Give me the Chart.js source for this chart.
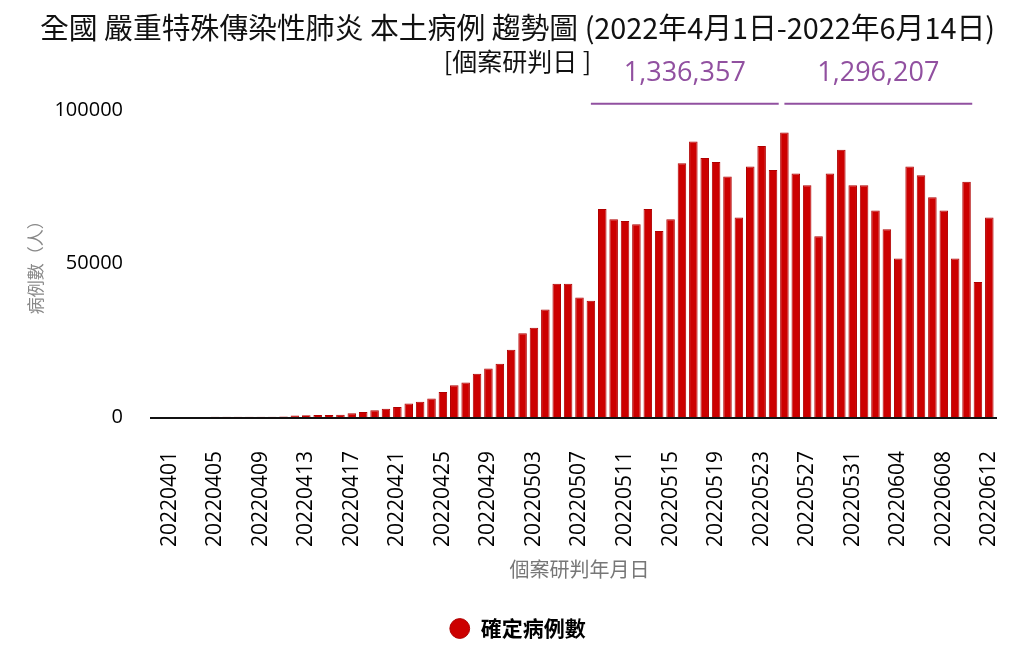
<!DOCTYPE html>
<html>
<head>
<meta charset="utf-8">
<script src="https://cdn.jsdelivr.net/npm/chart.js@4.4.0/dist/chart.umd.min.js"></script>
<style>
  html, body { margin: 0; padding: 0; background: #fff; }
  #wrap { width: 1024px; height: 651px; }
</style>
</head>
<body>
<div id="wrap"><canvas id="trendChart"></canvas></div>
<script>
// 個案研判日 (20220401 - 20220612)
const dates = [
  '20220401', '20220402', '20220403', '20220404', '20220405', '20220406', '20220407', '20220408',
  '20220409', '20220410', '20220411', '20220412', '20220413', '20220414', '20220415', '20220416',
  '20220417', '20220418', '20220419', '20220420', '20220421', '20220422', '20220423', '20220424',
  '20220425', '20220426', '20220427', '20220428', '20220429', '20220430', '20220501', '20220502',
  '20220503', '20220504', '20220505', '20220506', '20220507', '20220508', '20220509', '20220510',
  '20220511', '20220512', '20220513', '20220514', '20220515', '20220516', '20220517', '20220518',
  '20220519', '20220520', '20220521', '20220522', '20220523', '20220524', '20220525', '20220526',
  '20220527', '20220528', '20220529', '20220530', '20220531', '20220601', '20220602', '20220603',
  '20220604', '20220605', '20220606', '20220607', '20220608', '20220609', '20220610', '20220611',
  '20220612'
];

// 確定病例數
const confirmedCases = [
  10, 10, 20, 20, 30, 40, 50, 60,
  80, 100, 150, 500, 550, 600, 650, 700,
  1200, 1600, 2150, 2700, 3250, 4400, 4950, 6000,
  8100, 10300, 11250, 14050, 15800, 17300, 21850, 27250,
  29000, 35000, 43350, 43350, 38900, 37850, 67700, 64400,
  63800, 62700, 67700, 60500, 64400, 82600, 89700, 84300,
  83000, 78300, 64900, 81500, 88200, 80400, 92600, 79300,
  75450, 58800, 79300, 87000, 75450, 75450, 67250, 61100,
  51550, 81500, 78700, 71550, 67250, 51550, 76550, 43900,
  64900
];

const yTicks = [0, 50000, 100000];

// purple period totals shown above the bars
const periodTotals = ['1,336,357', '1,296,207'];
const periodStart = ['20220508', '20220525'];
const periodEnd = ['20220524', '20220610'];

const purple = '#9150a0';

// draws the baseline and the period brackets
const annotationPlugin = {
    id: 'periodBrackets',
    afterDatasetsDraw(chart) {
        const ctx = chart.ctx;
        const area = chart.chartArea;
        const x = chart.scales.x;
        const step = x.getPixelForValue(1) - x.getPixelForValue(0);

        // x axis baseline
        ctx.save();
        ctx.strokeStyle = '#111';
        ctx.lineWidth = 2;
        ctx.beginPath();
        ctx.moveTo(area.left - 14, area.bottom + 1);
        ctx.lineTo(area.right + 2, area.bottom + 1);
        ctx.stroke();

        // brackets
        ctx.strokeStyle = purple;
        ctx.fillStyle = purple;
        ctx.lineWidth = 2;
        ctx.font = '27px "Open Sans"';
        ctx.textAlign = 'center';
        ctx.textBaseline = 'middle';
        periodTotals.forEach((label, i) => {
            const x0 = x.getPixelForValue(dates.indexOf(periodStart[i]));
            const x1 = x.getPixelForValue(dates.indexOf(periodEnd[i])) + step / 2;
            const y = area.top - 6;
            ctx.beginPath();
            ctx.moveTo(x0, y);
            ctx.lineTo(x1, y);
            ctx.stroke();
            ctx.fillText(label, (x0 + x1) / 2, area.top - 36);
        });
        ctx.restore();
    }
};

const ctx = document.getElementById('trendChart').getContext('2d');
const chart = new Chart(ctx, {
    type: 'bar',
    data: {
        labels: dates,
        datasets: [{
            label: '確定病例數',
            data: confirmedCases,
            backgroundColor: '#cc0000',
            borderColor: '#b00000',
            borderWidth: 1,
            barPercentage: 0.75,
            categoryPercentage: 1.0
        }]
    },
    options: {
        responsive: true,
        maintainAspectRatio: false,
        animation: false,
        layout: {
            padding: { left: 40, right: 29, top: 0, bottom: 2 }
        },
        plugins: {
            title: {
                display: true,
                text: '全國 嚴重特殊傳染性肺炎 本土病例 趨勢圖 (2022年4月1日-2022年6月14日)',
                color: '#111',
                font: { size: 29, family: '"Noto Sans CJK TC"', weight: 'normal' },
                padding: { top: 11, bottom: 1 }
            },
            subtitle: {
                display: true,
                text: '[個案研判日 ]',
                color: '#111',
                font: { size: 25, family: '"Noto Sans CJK TC"' },
                padding: { top: 0, bottom: 33 }
            },
            legend: {
                position: 'bottom',
                labels: {
                    usePointStyle: true,
                    pointStyle: 'circle',
                    boxHeight: 14,
                    color: '#000',
                    font: { size: 21, family: '"Noto Sans CJK TC"', weight: 'bold' },
                    padding: 10
                }
            },
            tooltip: { enabled: false }
        },
        scales: {
            x: {
                grid: { display: false, drawTicks: false },
                border: { display: false },
                afterFit: function(scale) {
                    // rotated labels should not shrink the plot sideways
                    scale.paddingLeft = 0;
                    scale.paddingRight = 0;
                },
                ticks: {
                    autoSkip: false,
                    maxRotation: 90,
                    minRotation: 90,
                    padding: 34,
                    color: '#000',
                    font: { size: 21, family: '"Open Sans"' },
                    callback: function(value, index) {
                        return index % 4 === 0 ? dates[index] : '';
                    }
                },
                title: {
                    display: true,
                    text: '個案研判年月日',
                    color: '#777',
                    font: { size: 20, family: '"Noto Sans CJK TC"' },
                    padding: { top: -24, bottom: 27 }
                }
            },
            y: {
                min: 0,
                max: 100000,
                afterFit: function(scale) {
                    scale.width = 124;
                },
                afterBuildTicks: function(scale) {
                    scale.ticks = yTicks.map(v => ({ value: v }));
                },
                grid: { display: false, drawTicks: false },
                border: { display: false },
                ticks: {
                    padding: 41,
                    color: '#000',
                    font: { size: 20, family: '"Open Sans"' },
                    callback: function(value) {
                        return String(value);
                    }
                },
                title: {
                    display: true,
                    text: '病例數（人）',
                    color: '#888',
                    font: { size: 17, family: '"Noto Sans CJK TC"' },
                    padding: { top: -15, bottom: 0 }
                }
            }
        }
    },
    plugins: [annotationPlugin]
});
</script>
</body>
</html>
